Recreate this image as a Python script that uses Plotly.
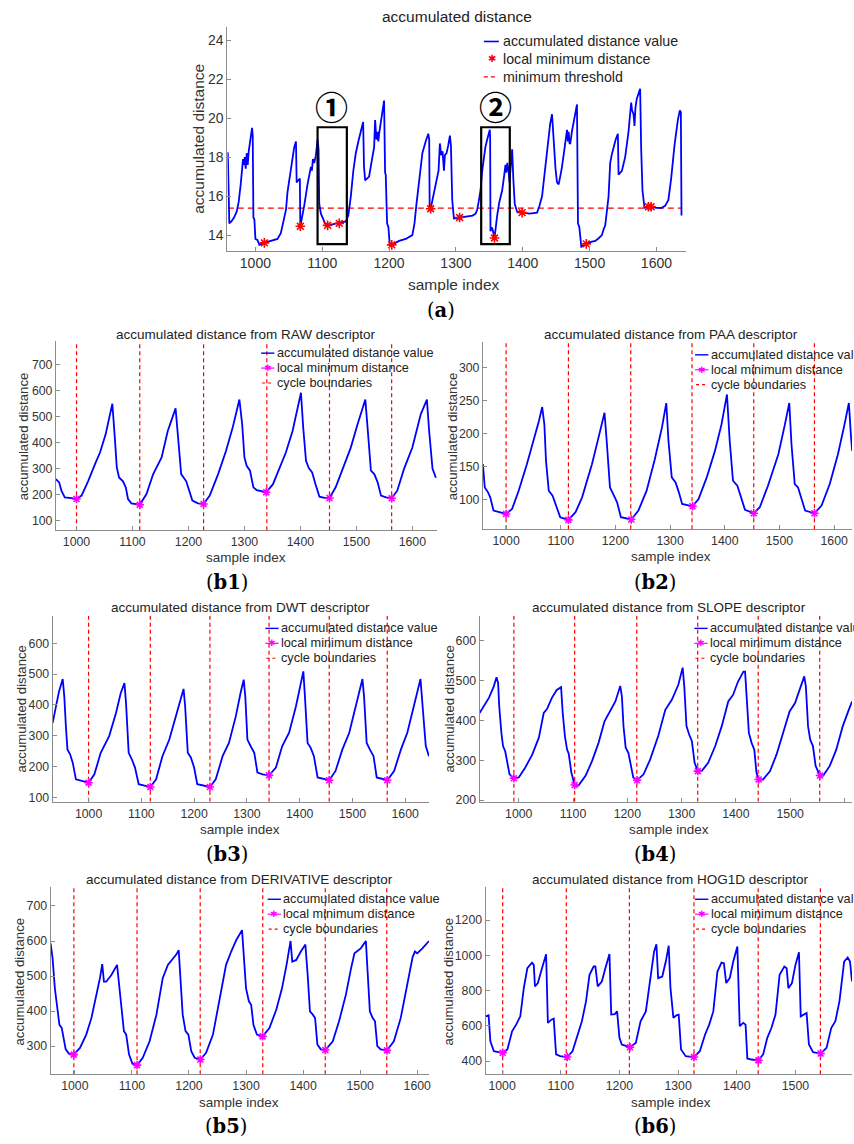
import plotly.graph_objects as go

W, H = 854, 1144
FONT = "Liberation Sans, Arial, Helvetica, sans-serif"
SERIF = "DejaVu Serif, Liberation Serif, serif"
BLUE = "#0000ff"
RED = "#ff0000"
MAGENTA = "#ff00ff"
AXIS_COLOR = "#8c8c8c"
TEXT_COLOR = "#333333"

x_ticks = [1000, 1100, 1200, 1300, 1400, 1500, 1600]

# ---------------- (a) accumulated distance ----------------
a_x = [958.7, 961, 964, 968, 972, 975, 978, 980, 981.5, 983, 984, 985.5, 987, 988.5, 990, 992.5, 995, 996, 997,
       998.5, 1000, 1003, 1006, 1013, 1022, 1033, 1038, 1042, 1045.8, 1048, 1050.7, 1053, 1055.7, 1058, 1060.7,
       1061.7, 1064, 1066.5, 1067.2, 1070, 1073, 1078, 1081, 1083, 1084.5, 1086, 1088, 1090.5, 1093, 1094.5, 1095.5,
       1098, 1100.5, 1104, 1108, 1116, 1125.4, 1135.3, 1139, 1142.8, 1146.5, 1150.2, 1154, 1157.7, 1161.2, 1162.5,
       1164.2, 1167, 1170.1, 1174, 1177.6, 1179.1, 1181, 1182.6, 1184, 1185.1, 1189, 1192.5, 1194, 1195, 1197, 1199,
       1201, 1204, 1215, 1225, 1234.8, 1238, 1241, 1244.8, 1247, 1249.8, 1254.7, 1258.7, 1260, 1260.7, 1262.2, 1265,
       1269.7, 1274, 1276, 1278, 1280, 1282.1, 1283.5, 1286, 1288.5, 1291, 1292.5, 1294.5, 1297, 1305.5, 1315, 1325,
       1329.4, 1331.8, 1334, 1336.8, 1339, 1341.8, 1344, 1346.8, 1350.7, 1351.2, 1351.7, 1353.5, 1355.2, 1357.7, 1360,
       1361.7, 1365, 1369.2, 1372, 1374.1, 1375.5, 1377, 1379.1, 1380.1, 1382, 1384.1, 1386, 1388, 1391.5, 1399, 1410,
       1421.4, 1425, 1428.9, 1431, 1433.8, 1436, 1438.8, 1441, 1443.8, 1446.3, 1449, 1451.2, 1453.7, 1456, 1458.7,
       1462.7, 1466.2, 1467.5, 1468.7, 1470, 1471.1, 1473.5, 1476.1, 1478.5, 1481.1, 1482.6, 1484.6, 1487.6, 1490,
       1495, 1502, 1508.5, 1514, 1518.4, 1521, 1523.4, 1528.4, 1530.8, 1533, 1535.8, 1539, 1542.3, 1543.3, 1548.3,
       1553.2, 1558.2, 1562.2, 1563.5, 1565.7, 1567.2, 1568.5, 1570.6, 1575.6, 1577.1, 1579.1, 1582.1, 1590.5, 1600,
       1607.9, 1612.9, 1617.9, 1622, 1627, 1632, 1635, 1636.5, 1637.5]
a_y = [18.25, 14.6, 14.7, 14.9, 15.2, 15.7, 16.6, 17.3, 17.9, 17.6, 18.0, 17.4, 18.2, 17.6, 18.3, 18.9, 19.5, 19.1, 14.9,
       14.8, 13.8, 13.75, 13.5, 13.6, 13.7, 13.8, 14.1, 14.7, 15.3, 16.2, 16.8, 17.5, 18.0, 18.5, 18.8,
       16.7, 16.8, 16.9, 14.45, 14.9, 15.5, 16.6, 17.2, 17.5, 17.3, 17.9, 17.7, 18.1, 18.9, 18.4, 15.6,
       15.1, 14.9, 14.6, 14.5, 14.55, 14.6, 14.7, 15.0, 16.0, 17.3, 18.2, 18.8, 19.3, 19.8, 17.5,
       16.8, 16.9, 17.0, 17.8, 18.5, 19.9, 18.9, 19.3, 18.8, 19.2, 20.0, 20.9, 17.2, 17.1, 14.6, 14.4,
       13.5, 13.5, 13.7, 13.8, 14.0, 14.6, 15.6, 16.8, 17.6, 18.2, 18.8, 19.2, 18.9, 15.5, 15.35, 15.8,
       16.5, 17.3, 18.7, 18.1, 18.3, 17.3, 18.1, 18.2, 18.6, 19.1, 18.6, 15.8, 14.85, 14.9, 14.95, 15.0,
       15.1, 15.3, 15.7, 16.3, 17.2, 18.0, 18.5, 18.9, 19.4, 19.0, 14.2, 14.4, 14.25, 13.85, 14.6,
       15.0, 15.7, 16.3, 17.0, 17.6, 17.2, 17.7, 17.2, 16.7, 17.5, 18.4, 16.8, 15.6, 15.2, 15.15, 15.1,
       15.15, 15.5, 16.0, 16.7, 17.5, 18.3, 19.0, 19.7, 20.2, 18.5, 17.4, 16.7, 16.6, 17.0, 17.5,
       18.5, 19.4, 18.8, 19.3, 18.7, 18.7, 19.3, 19.8, 20.3, 20.7, 14.6, 14.4, 13.4, 13.45,
       13.55, 13.65, 13.7, 13.85, 14.0, 14.3, 14.5, 16.0, 17.7, 18.1, 18.5, 18.9, 19.2, 17.1, 17.3,
       18.0, 19.3, 20.8, 20.4, 20.2, 19.6, 20.5, 21.0, 21.5, 18.5, 16.3, 15.4, 15.45, 15.4,
       15.4, 15.5, 15.8, 16.9, 18.6, 19.9, 20.4, 20.3, 15.0]
a_min_x = [1013.4, 1067.2, 1108, 1125.4, 1204, 1262.2, 1305.5, 1357.7, 1399, 1495, 1588, 1592]
a_min_y = [13.6, 14.45, 14.5, 14.6, 13.5, 15.35, 14.9, 13.85, 15.15, 13.55, 15.45, 15.45]
a_threshold = 15.38
a_box_x = [[1093, 1136.8], [1337.8, 1380.6]]
a_box_y = [13.54, 19.53]
a_box_labels = ["\u2460", "\u2461"]
a_label_x = [1114.4, 1359.2]
a_label_y = 20.6
a_y_ticks = [14, 16, 18, 20, 22, 24]

# ---------------- (b1) RAW ----------------
raw_x = [963.1, 969, 973, 979, 991, 1000, 1009, 1021, 1033, 1042, 1052, 1059, 1064, 1068, 1072, 1076, 1083, 1088, 1092,
         1098, 1113, 1125, 1137, 1152, 1163, 1177, 1181, 1187, 1196, 1201, 1207, 1217, 1227, 1238, 1253, 1267, 1279,
         1291, 1296, 1300, 1304, 1310, 1316, 1322, 1339, 1351, 1362, 1374, 1386, 1395, 1401, 1405, 1410, 1415, 1421,
         1427, 1434, 1443, 1452, 1463, 1475, 1490, 1502, 1516, 1520, 1526, 1532, 1538, 1544, 1553, 1563, 1573, 1585,
         1600, 1615, 1626, 1630, 1636, 1642]
raw_y = [260, 247, 215, 189, 186, 183, 196, 253, 317, 362, 432, 496, 550, 432, 304, 266, 251, 228, 183,
         166, 161, 202, 279, 343, 445, 532, 432, 279, 251, 215, 177, 166, 164, 196, 279, 368, 458,
         566, 470, 343, 311, 292, 228, 217, 209, 240, 298, 362, 445, 528, 592, 458, 330, 302, 285,
         240, 192, 187, 187, 228, 298, 381, 470, 566, 458, 292, 279, 247, 196, 189, 186, 215, 298,
         381, 509, 566, 445, 300, 265]
raw_min_x = [1000, 1113, 1227, 1339, 1452, 1563]
raw_min_y = [183, 161, 164, 209, 187, 186]
raw_bounds = [1000, 1113, 1227, 1340, 1452, 1563]

# ---------------- (b2) PAA ----------------
paa_x = [957.5, 961, 967, 971, 977, 990, 1000, 1011, 1023, 1038, 1050, 1060, 1066, 1070, 1073, 1078, 1085, 1093, 1099,
         1114, 1127, 1139, 1157, 1169, 1180, 1184, 1190, 1196, 1203, 1210, 1229, 1242, 1257, 1272, 1285, 1293, 1297,
         1303, 1310, 1316, 1322, 1341, 1352, 1367, 1382, 1394, 1404, 1409, 1415, 1423, 1431, 1437, 1453, 1464, 1479,
         1498, 1510, 1518, 1522, 1528, 1534, 1541, 1547, 1564, 1577, 1592, 1607, 1619, 1627, 1631, 1633]
paa_y = [153.6, 118.5, 111, 103.5, 83.5, 81, 78.4, 86, 113.5, 153.6, 188.7, 218.8, 240, 213.8, 158.6, 113.5, 106, 88.5,
         73.4, 69.4, 81, 103.5, 153.6, 193.7, 231.3, 188.7, 118.5, 108.5, 96, 73.4, 70, 83.5, 113.5, 161, 208.8, 246,
         188.7, 133.6, 126, 111, 93.5, 90, 101, 133.6, 173.7, 213.8, 259, 188.7, 128.6, 121, 98.5, 84.5, 79.4, 88.5,
         121, 168.7, 213.8, 246, 183.7, 123.6, 118.5, 98.5, 83.5, 79.4, 91, 123.6, 168.7, 213.8, 246, 193.7, 173.7]
paa_min_x = [1000, 1114, 1229, 1341, 1453, 1564]
paa_min_y = [78.4, 69.4, 70, 90, 79.4, 79.4]
paa_bounds = [1000, 1114, 1228, 1340, 1453, 1564]

# ---------------- (b3) DWT ----------------
dwt_x = [932, 938, 944, 951, 954, 957, 960, 965, 970, 976, 989, 1000, 1011, 1023, 1039, 1052, 1061, 1068, 1071, 1076,
         1082, 1088, 1095, 1105, 1117, 1128, 1140, 1153, 1165, 1175, 1180, 1183, 1188, 1194, 1200, 1206, 1219, 1230,
         1241, 1254, 1266, 1279, 1288, 1294, 1297, 1301, 1307, 1314, 1320, 1330, 1342, 1355, 1367, 1380, 1393, 1402,
         1407, 1410, 1415, 1421, 1427, 1434, 1446, 1456, 1468, 1481, 1494, 1506, 1516, 1519, 1522, 1527, 1533, 1540,
         1546, 1557, 1566, 1579, 1592, 1604, 1617, 1626, 1629, 1634, 1639, 1645]
dwt_y = [342, 396, 444, 484, 428, 331, 256, 240, 213, 159, 154, 148, 175, 245, 299, 374, 439, 471, 406, 245,
         224, 197, 143, 138, 134, 159, 234, 288, 363, 428, 452, 396, 245, 229, 197, 143, 138, 134,
         159, 234, 277, 363, 439, 482, 428, 288, 267, 245, 181, 175, 172, 197, 267, 310, 396, 471,
         509, 428, 277, 261, 234, 165, 159, 156, 186, 256, 310, 396, 460, 484, 428, 277, 256, 234,
         165, 159, 156, 186, 256, 310, 396, 460, 484, 374, 267, 234]
dwt_min_x = [1000, 1117, 1230, 1342, 1456, 1566]
dwt_min_y = [148, 134, 134, 172, 156, 156]
dwt_bounds = [1000, 1117, 1230, 1342, 1456, 1566]

# ---------------- (b4) SLOPE ----------------
slope_x = [927.8, 936, 945, 954, 959, 962, 964, 968, 971, 975, 979, 983, 991, 1000, 1012, 1025, 1037, 1046, 1052,
           1061, 1070, 1078, 1081, 1085, 1089, 1092, 1097, 1103, 1110, 1123, 1135, 1147, 1158, 1169, 1178, 1187,
           1190, 1193, 1197, 1202, 1207, 1211, 1218, 1230, 1242, 1257, 1270, 1282, 1294, 1302, 1305, 1309, 1314,
           1319, 1324, 1330, 1337, 1349, 1362, 1374, 1386, 1395, 1404, 1414, 1417, 1420, 1424, 1429, 1434, 1438,
           1442, 1450, 1463, 1475, 1487, 1499, 1509, 1518, 1526, 1529, 1533, 1537, 1542, 1547, 1555, 1561, 1573,
           1585, 1597, 1607, 1614]
slope_y = [419, 436, 457, 486, 509, 494, 436, 369, 336, 323, 294, 265, 255, 257, 282, 315, 357, 419, 429,
           457, 477, 484, 419, 361, 327, 317, 269, 238, 237, 261, 298, 344, 398, 426, 448, 487,
           461, 386, 332, 319, 286, 257, 250, 265, 302, 361, 427, 452, 490, 533, 486, 386, 365,
           348, 294, 273, 273, 294, 336, 386, 448, 465, 498, 523, 523, 461, 369, 344, 327, 269,
           252, 252, 273, 315, 369, 423, 444, 477, 511, 486, 386, 352, 336, 286, 262, 262, 286,
           327, 386, 423, 448]
slope_min_x = [991, 1103, 1218, 1330, 1442, 1555]
slope_min_y = [255, 238, 250, 273, 252, 262]
slope_bounds = [991, 1103, 1217.5, 1329.7, 1441.2, 1554.5]

# ---------------- (b5) DERIVATIVE ----------------
deriv_x = [957.5, 961, 965, 969, 973, 977, 980, 984, 990, 998, 1009, 1020, 1029, 1038, 1044, 1048, 1051, 1055, 1064,
           1074, 1078, 1082, 1086, 1090, 1095, 1101, 1109, 1119, 1131, 1143, 1154, 1163, 1169, 1178, 1182, 1185,
           1189, 1194, 1199, 1204, 1210, 1220, 1230, 1242, 1253, 1265, 1274, 1283, 1293, 1296, 1300, 1305, 1309,
           1313, 1319, 1329, 1341, 1353, 1363, 1371, 1378, 1381, 1388, 1396, 1404, 1408, 1412, 1417, 1421, 1425,
           1431, 1439, 1452, 1463, 1475, 1484, 1490, 1501, 1510, 1513, 1517, 1522, 1526, 1530, 1536, 1547, 1559,
           1571, 1583, 1592, 1596, 1600, 1609, 1620.6]
deriv_y = [593, 551, 465, 409, 361, 352, 328, 291, 278, 276, 295, 333, 380, 447, 494, 534, 484, 484, 503,
           532, 465, 390, 343, 333, 276, 250, 246, 267, 314, 390, 494, 532, 543, 562, 574, 484,
           390, 343, 333, 286, 267, 262, 281, 333, 428, 532, 570, 603, 631, 560, 465, 428, 418,
           361, 333, 328, 352, 404, 465, 532, 600, 541, 546, 570, 590, 503, 399, 390, 380, 305,
           291, 289, 314, 371, 447, 522, 565, 579, 600, 513, 399, 380, 371, 300, 291, 288, 314,
           380, 475, 555, 570, 565, 579, 600]
deriv_min_x = [998, 1109, 1220, 1329, 1439, 1547]
deriv_min_y = [276, 246, 262, 328, 289, 288]
deriv_bounds = [998.3, 1109, 1219.7, 1329.3, 1438.8, 1546.6]

# ---------------- (b6) HOG1D ----------------
hog_x = [971.8, 977, 980, 986, 994, 1001, 1009, 1017, 1024, 1031, 1037, 1043, 1051, 1054, 1056, 1061, 1068, 1075, 1078,
         1084, 1088, 1092, 1099, 1111, 1120, 1128, 1136, 1143, 1149, 1156, 1159, 1163, 1170, 1176, 1183, 1186, 1192,
         1196, 1200, 1204, 1211, 1218, 1228, 1236, 1245, 1252, 1259, 1263, 1266, 1273, 1279, 1284, 1287, 1292, 1297,
         1301, 1305, 1313, 1327, 1337, 1346, 1353, 1360, 1367, 1374, 1378, 1382, 1388, 1394, 1401, 1405, 1411, 1415,
         1418, 1425, 1437, 1445, 1452, 1459, 1466, 1473, 1481, 1485, 1488, 1494, 1500, 1506, 1509, 1515, 1519, 1523,
         1530, 1543, 1553, 1561, 1568, 1575, 1583, 1589, 1593, 1596.4]
hog_y = [654, 660, 513, 456, 451, 447, 466, 569, 607, 654, 814, 927, 959, 946, 824, 843, 927, 1006, 617,
         635, 641, 438, 428, 423, 456, 541, 626, 739, 890, 937, 937, 824, 852, 927, 1008, 664, 667,
         682, 532, 494, 485, 479, 504, 626, 682, 852, 1021, 1063, 871, 880, 965, 1055, 814, 645, 660,
         664, 466, 428, 423, 456, 551, 607, 682, 908, 959, 956, 843, 871, 965, 1050, 598, 617, 607,
         415, 409, 404, 438, 532, 588, 664, 890, 937, 927, 814, 843, 946, 1018, 654, 664, 673, 494,
         451, 443, 475, 588, 626, 739, 965, 988, 965, 852]
hog_min_x = [1001, 1111, 1218, 1327, 1437, 1543]
hog_min_y = [447, 423, 479, 423, 404, 443]
hog_bounds = [1001, 1109.4, 1217, 1327, 1436.5, 1542.5]

legend_a = ["accumulated distance value", "local minimum distance", "minimum threshold"]
legend_b = ["accumulated distance value", "local minimum distance", "cycle boundaries"]

# panel geometry in pixels: left, right, top, bottom ; axis ranges
panels = [
    dict(title="accumulated distance", box=(228, 688, 27, 252), xr=[958.2, 1644.8], yr=[13.2, 24.68],
         yt=a_y_ticks, tf=14.0),
    dict(title="accumulated distance from RAW descriptor", box=(56, 438, 343, 533), xr=[963.1, 1644.0],
         yr=[62.8, 790.8], yt=[100, 200, 300, 400, 500, 600, 700], tf=12.3,
         x=raw_x, y=raw_y, mx=raw_min_x, my=raw_min_y, bd=raw_bounds, lab="b1",
         tpos=(247, 336), xl=(246.7, 560), yl=(23.3, 438.3), pl=(227.6, 586), leg=(261.7, 355)),
    dict(title="accumulated distance from PAA descriptor", box=(484, 854, 344, 532), xr=[957.5, 1632.7],
         yr=[55.3, 338.0], yt=[100, 150, 200, 250, 300], tf=12.3,
         x=paa_x, y=paa_y, mx=paa_min_x, my=paa_min_y, bd=paa_bounds, lab="b2",
         tpos=(672.3, 336), xl=(672.3, 559.3), yl=(453.3, 438.3), pl=(656.7, 586), leg=(696.7, 356.7)),
    dict(title="accumulated distance from DWT descriptor", box=(52.7, 430, 619, 806), xr=[931.8, 1645.1],
         yr=[86.1, 689.4], yt=[100, 200, 300, 400, 500, 600], tf=12.3,
         x=dwt_x, y=dwt_y, mx=dwt_min_x, my=dwt_min_y, bd=dwt_bounds, lab="b3",
         tpos=(240.7, 610.7), xl=(240.7, 834.3), yl=(21.7, 712.7), pl=(227.6, 859), leg=(266, 631.7)),
    dict(title="accumulated distance from SLOPE descriptor", box=(480.7, 854, 619, 806), xr=[927.8, 1614.0],
         yr=[196.0, 663.3], yt=[200, 300, 400, 500, 600], tf=12.3,
         x=slope_x, y=slope_y, mx=slope_min_x, my=slope_min_y, bd=slope_bounds, lab="b4",
         tpos=(670.7, 610.7), xl=(670.7, 834.3), yl=(450.7, 712.7), pl=(656.7, 859), leg=(696, 631.7)),
    dict(title="accumulated distance from DERIVATIVE descriptor", box=(50.7, 430, 891.7, 1080), xr=[957.5, 1620.6],
         yr=[219.7, 754.0], yt=[300, 400, 500, 600, 700], tf=12.3,
         x=deriv_x, y=deriv_y, mx=deriv_min_x, my=deriv_min_y, bd=deriv_bounds, lab="b5",
         tpos=(240, 884), xl=(240, 1108.3), yl=(20, 986.7), pl=(226.7, 1132), leg=(268.3, 904)),
    dict(title="accumulated distance from HOG1D descriptor", box=(486.7, 854, 891.7, 1080), xr=[971.8, 1596.4],
         yr=[324.9, 1388.0], yt=[400, 600, 800, 1000, 1200], tf=12.3,
         x=hog_x, y=hog_y, mx=hog_min_x, my=hog_min_y, bd=hog_bounds, lab="b6",
         tpos=(672.3, 884), xl=(672.3, 1108.3), yl=(450, 986.7), pl=(656.7, 1132), leg=(696.7, 904)),
]


def px(xp):
    return xp / W


def py(yp):
    return 1 - yp / H


def text_ann(xp, yp, text, size, family=FONT, color="#333", xanchor="center", angle=0):
    return dict(x=px(xp), y=py(yp), xref="paper", yref="paper", text=text, showarrow=False,
                xanchor=xanchor, yanchor="middle", textangle=angle,
                font=dict(family=family, size=size, color=color))


fig = go.Figure()
annotations = []
shapes = []
layout_axes = {}

for i, p in enumerate(panels):
    n = i + 1
    xa = "x" if n == 1 else f"x{n}"
    ya = "y" if n == 1 else f"y{n}"
    l, r, t, b = p["box"]
    common = dict(showline=True, linecolor=AXIS_COLOR, linewidth=1, ticks="inside", ticklen=4,
                  tickcolor=AXIS_COLOR, showgrid=False, zeroline=False, mirror=False,
                  tickfont=dict(family=FONT, size=p["tf"], color=TEXT_COLOR))
    layout_axes["xaxis" if n == 1 else f"xaxis{n}"] = dict(
        domain=[px(l), min(px(r), 1.0)], range=p["xr"], anchor=ya, tickvals=x_ticks, **common)
    layout_axes["yaxis" if n == 1 else f"yaxis{n}"] = dict(
        domain=[py(b), py(t)], range=p["yr"], anchor=xa, tickvals=p["yt"], **common)

    if n == 1:
        fig.add_trace(go.Scatter(x=[a_x[0], a_x[-1]], y=[a_threshold, a_threshold], mode="lines",
                                 line=dict(color=RED, width=1.2, dash="6px,4px"), xaxis=xa, yaxis=ya))
        fig.add_trace(go.Scatter(x=a_x, y=a_y, mode="lines", line=dict(color=BLUE, width=1.8),
                                 xaxis=xa, yaxis=ya))
        fig.add_trace(go.Scatter(x=a_min_x, y=a_min_y, mode="markers",
                                 marker=dict(symbol="asterisk-open", size=8, color=RED,
                                             line=dict(color=RED, width=1.6)),
                                 xaxis=xa, yaxis=ya))
        for (bx0, bx1), lab, lx in zip(a_box_x, a_box_labels, a_label_x):
            shapes.append(dict(type="rect", xref=xa, yref=ya, x0=bx0, x1=bx1, y0=a_box_y[0], y1=a_box_y[1],
                               line=dict(color="black", width=2.2)))
            annotations.append(dict(x=lx, y=a_label_y, xref=xa, yref=ya, text=f"<b>{lab}</b>", showarrow=False,
                                    xanchor="center", yanchor="middle",
                                    font=dict(family="Noto Sans CJK SC", size=33, color="black")))
        annotations.append(text_ann(458, 17, p["title"], 15.5, color="#222"))
        annotations.append(text_ann(199, 140, "accumulated distance", 15.5, angle=-90))
        annotations.append(text_ann(455, 286, "sample index", 15.5))
        annotations.append(text_ann(442, 312, "(<b>a</b>)", 19.5, family=SERIF, color="black"))
        # legend (a)
        lx0, lx1, ltx = 485, 500, 502
        rows_y = [41.7, 59.3, 77.3]
        shapes.append(dict(type="line", xref="paper", yref="paper", x0=px(lx0), x1=px(lx1),
                           y0=py(rows_y[0]), y1=py(rows_y[0]), line=dict(color=BLUE, width=1.6)))
        annotations.append(text_ann(492.7, rows_y[1], "\u2731", 10, family="DejaVu Sans", color=RED))
        shapes.append(dict(type="line", xref="paper", yref="paper", x0=px(lx0), x1=px(lx1 - 1),
                           y0=py(rows_y[2]), y1=py(rows_y[2]), line=dict(color=RED, width=1.2, dash="4px,3px")))
        for txt, yy in zip(legend_a, rows_y):
            annotations.append(text_ann(ltx, yy, txt, 14.2, color="#222", xanchor="left"))
        continue

    # b panels: boundaries
    bx, by = [], []
    for v in p["bd"]:
        bx += [v, v, None]
        by += [p["yr"][0], p["yr"][1], None]
    fig.add_trace(go.Scatter(x=bx, y=by, mode="lines", line=dict(color=RED, width=1.2, dash="4px,3px"),
                             xaxis=xa, yaxis=ya))
    fig.add_trace(go.Scatter(x=p["x"], y=p["y"], mode="lines", line=dict(color=BLUE, width=1.8),
                             xaxis=xa, yaxis=ya))
    fig.add_trace(go.Scatter(x=p["mx"], y=p["my"], mode="markers",
                             marker=dict(symbol="asterisk-open", size=7, color=MAGENTA,
                                         line=dict(color=MAGENTA, width=1.6)),
                             xaxis=xa, yaxis=ya))
    annotations.append(text_ann(p["tpos"][0], p["tpos"][1], p["title"], 13.5, color="#222"))
    annotations.append(text_ann(p["xl"][0], p["xl"][1], "sample index", 13.5))
    annotations.append(text_ann(p["yl"][0], p["yl"][1], "accumulated distance", 13.2, angle=-90))
    annotations.append(text_ann(p["pl"][0], p["pl"][1], f"(<b>{p['lab']}</b>)", 19.5, family=SERIF,
                                color="black"))
    # legend
    lx0, ly0 = p["leg"]
    rows_y = [ly0, ly0 + 15, ly0 + 30]
    shapes.append(dict(type="line", xref="paper", yref="paper", x0=px(lx0), x1=px(lx0 + 13.3),
                       y0=py(rows_y[0]), y1=py(rows_y[0]), line=dict(color=BLUE, width=1.4)))
    shapes.append(dict(type="line", xref="paper", yref="paper", x0=px(lx0), x1=px(lx0 + 13.3),
                       y0=py(rows_y[1]), y1=py(rows_y[1]), line=dict(color=MAGENTA, width=1.2)))
    annotations.append(text_ann(lx0 + 6.7, rows_y[1], "\u2731", 9, family="DejaVu Sans", color=MAGENTA))
    shapes.append(dict(type="line", xref="paper", yref="paper", x0=px(lx0 + 1), x1=px(lx0 + 11),
                       y0=py(rows_y[2]), y1=py(rows_y[2]), line=dict(color=RED, width=1.2, dash="3px,3px")))
    for txt, yy in zip(legend_b, rows_y):
        annotations.append(text_ann(lx0 + 13.5, yy, txt, 12.7, color="#222", xanchor="left"))

fig.update_layout(width=W, height=H, margin=dict(l=0, r=0, t=0, b=0), showlegend=False,
                  plot_bgcolor="white", paper_bgcolor="white", annotations=annotations, shapes=shapes,
                  **layout_axes)
fig.write_html("out.html")
